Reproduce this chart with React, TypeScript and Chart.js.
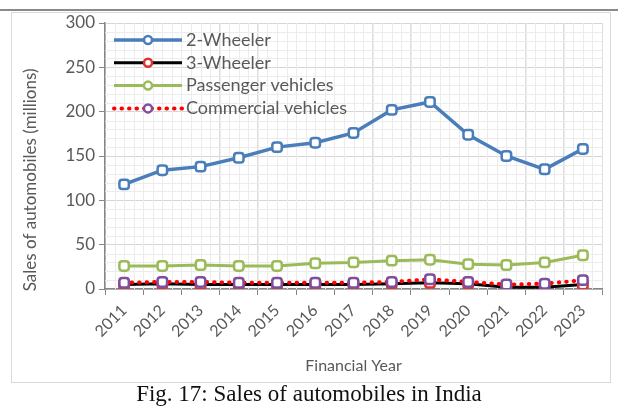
import React, { useEffect, useRef } from "react";
import { Chart, registerables } from "chart.js";

Chart.register(...registerables);

const years = ["2011","2012","2013","2014","2015","2016","2017","2018","2019","2020","2021","2022","2023"];
const twoWheeler = [118, 134, 138, 148, 160, 165, 176, 202, 211, 174, 150, 135, 158];
const threeWheeler = [5, 6, 5, 5, 5, 5, 5, 6, 7, 6, 2, 2, 5];
const passenger = [26, 26, 27, 26, 26, 29, 30, 32, 33, 28, 27, 30, 38];
const commercial = [7, 8, 8, 7, 7, 7, 7, 8, 11, 8, 5, 6, 10];
const yTicks = [0, 50, 100, 150, 200, 250, 300];
const yTitle = "Sales of automobiles (millions)";

const FONT = "Lato, 'Liberation Sans', sans-serif";

const minorGrid = {
  id: "minorGrid",
  beforeDatasetsDraw(chart: any) {
    const { ctx, chartArea, scales } = chart;
    const x = scales.x;
    const y = scales.y;
    ctx.save();
    ctx.strokeStyle = "#ececec";
    ctx.lineWidth = 1;
    const step = (x.getPixelForValue(1) - x.getPixelForValue(0)) / 4;
    for (let px = chartArea.left + step; px < chartArea.right - 1; px += step) {
      ctx.beginPath();
      ctx.moveTo(Math.round(px) + 0.5, chartArea.top);
      ctx.lineTo(Math.round(px) + 0.5, chartArea.bottom);
      ctx.stroke();
    }
    for (let v = 10; v < 300; v += 10) {
      if (v % 50 === 0) continue;
      const py = Math.round(y.getPixelForValue(v)) + 0.5;
      ctx.beginPath();
      ctx.moveTo(chartArea.left, py);
      ctx.lineTo(chartArea.right, py);
      ctx.stroke();
    }
    ctx.restore();
  },
};

const yTitlePlugin = {
  id: "yTitlePlugin",
  afterDraw(chart: any) {
    const { ctx, chartArea } = chart;
    ctx.save();
    ctx.translate(19, chartArea.top + (chartArea.bottom - chartArea.top) * 0.59);
    ctx.rotate(-Math.PI / 2);
    ctx.fillStyle = "#595959";
    ctx.font = `17px ${FONT}`;
    ctx.textAlign = "center";
    ctx.textBaseline = "middle";
    ctx.fillText(yTitle, 0, 0);
    ctx.restore();
  },
};

const insideLegend = {
  id: "insideLegend",
  afterDraw(chart: any) {
    const { ctx, chartArea } = chart;
    ctx.save();
    const x0 = chartArea.left + 9;
    let yy = chartArea.top + 17;
    chart.data.datasets.forEach((ds: any) => {
      ctx.strokeStyle = ds.borderColor;
      ctx.lineWidth = ds.borderWidth;
      ctx.lineCap = ds.borderCapStyle || "butt";
      ctx.setLineDash(ds.borderDash || []);
      ctx.beginPath();
      ctx.moveTo(x0, yy);
      ctx.lineTo(x0 + 68, yy);
      ctx.stroke();
      ctx.setLineDash([]);
      ctx.fillStyle = ds.pointBackgroundColor;
      ctx.strokeStyle = ds.pointBorderColor;
      ctx.lineWidth = 2.5;
      ctx.beginPath();
      ctx.arc(x0 + 34, yy, 4, 0, Math.PI * 2);
      ctx.fill();
      ctx.stroke();
      ctx.fillStyle = "#595959";
      ctx.font = `18px ${FONT}`;
      ctx.textBaseline = "middle";
      ctx.fillText(ds.label, x0 + 72, yy);
      yy += 22.8;
    });
    ctx.restore();
  },
};

export default function App() {
  const ref = useRef<HTMLCanvasElement>(null);
  useEffect(() => {
    document.body.style.margin = "0";
    const mk = (label: string, data: number[], line: string, pt: string, order: number, dash?: number[], width = 3.5, cap = "butt") => ({
      label,
      data,
      order,
      borderColor: line,
      borderWidth: width,
      borderDash: dash,
      borderCapStyle: cap,
      pointStyle: "rectRounded",
      pointRadius: 5.5,
      pointHoverRadius: 5.5,
      pointBorderWidth: 2.5,
      pointBorderColor: pt,
      pointBackgroundColor: "#ffffff",
      tension: 0,
    });
    const chart = new Chart(ref.current!, {
      type: "line",
      data: {
        labels: years,
        datasets: [
          mk("2-Wheeler", twoWheeler, "#4a7ebb", "#4a7ebb", 3),
          mk("3-Wheeler", threeWheeler, "#000000", "#e03030", 1, undefined, 3),
          mk("Passenger vehicles", passenger, "#9bbb59", "#9bbb59", 2, undefined, 3),
          mk("Commercial vehicles", commercial, "#ff0000", "#7f4f9f", 0, [0.5, 7], 4, "round"),
        ],
      } as any,
      options: {
        animation: false,
        responsive: false,
        layout: { padding: { left: 0, right: 8, top: 10, bottom: 3 } },
        plugins: { legend: { display: false }, tooltip: { enabled: false } },
        scales: {
          x: {
            offset: true,
            grid: { offset: true, color: "#dedede", tickLength: 6, tickColor: "#868686" },
            border: { color: "#868686", width: 1.5 },
            ticks: { color: "#595959", font: { family: FONT, size: 16 }, maxRotation: 45, minRotation: 45, padding: 6 },
            title: { display: true, text: "Financial Year", color: "#595959", font: { family: FONT, size: 16 }, padding: { top: 2 } },
            afterFit: (s: any) => { s.height = 90; s.paddingLeft = 0; s.paddingRight = 0; },
          },
          y: {
            min: 0,
            max: 300,
            afterBuildTicks: (s: any) => { s.ticks = yTicks.map((v) => ({ value: v })); },
            grid: { color: "#d6d6d6", tickLength: 6, tickColor: "#868686" },
            border: { color: "#868686", width: 1.5 },
            ticks: { color: "#595959", font: { family: FONT, size: 17 }, padding: 4 },
            title: { display: false },
            afterFit: (s: any) => { s.width = 93; s.paddingTop = 0; s.paddingBottom = 0; },
          },
        },
      },
      plugins: [minorGrid, insideLegend, yTitlePlugin],
    });
    return () => chart.destroy();
  }, []);
  return (
    <div style={{ position: "relative", width: 618, height: 407, background: "#fff", overflow: "hidden" }}>
      <div style={{ position: "absolute", left: 0, top: 9, width: 618, height: 2, background: "#8a8a8a" }} />
      <div style={{ position: "absolute", left: 11, top: 12, width: 598, height: 369, border: "1px solid #d9d9d9" }}>
        <canvas ref={ref} width={598} height={369} style={{ display: "block" }} />
      </div>
      <div style={{ position: "absolute", left: 0, top: 380, width: 618, textAlign: "center", fontFamily: "'Liberation Serif', 'Times New Roman', serif", fontSize: 23, lineHeight: "27px", color: "#111", whiteSpace: "nowrap" }}>
        Fig. 17: Sales of automobiles in India
      </div>
    </div>
  );
}
